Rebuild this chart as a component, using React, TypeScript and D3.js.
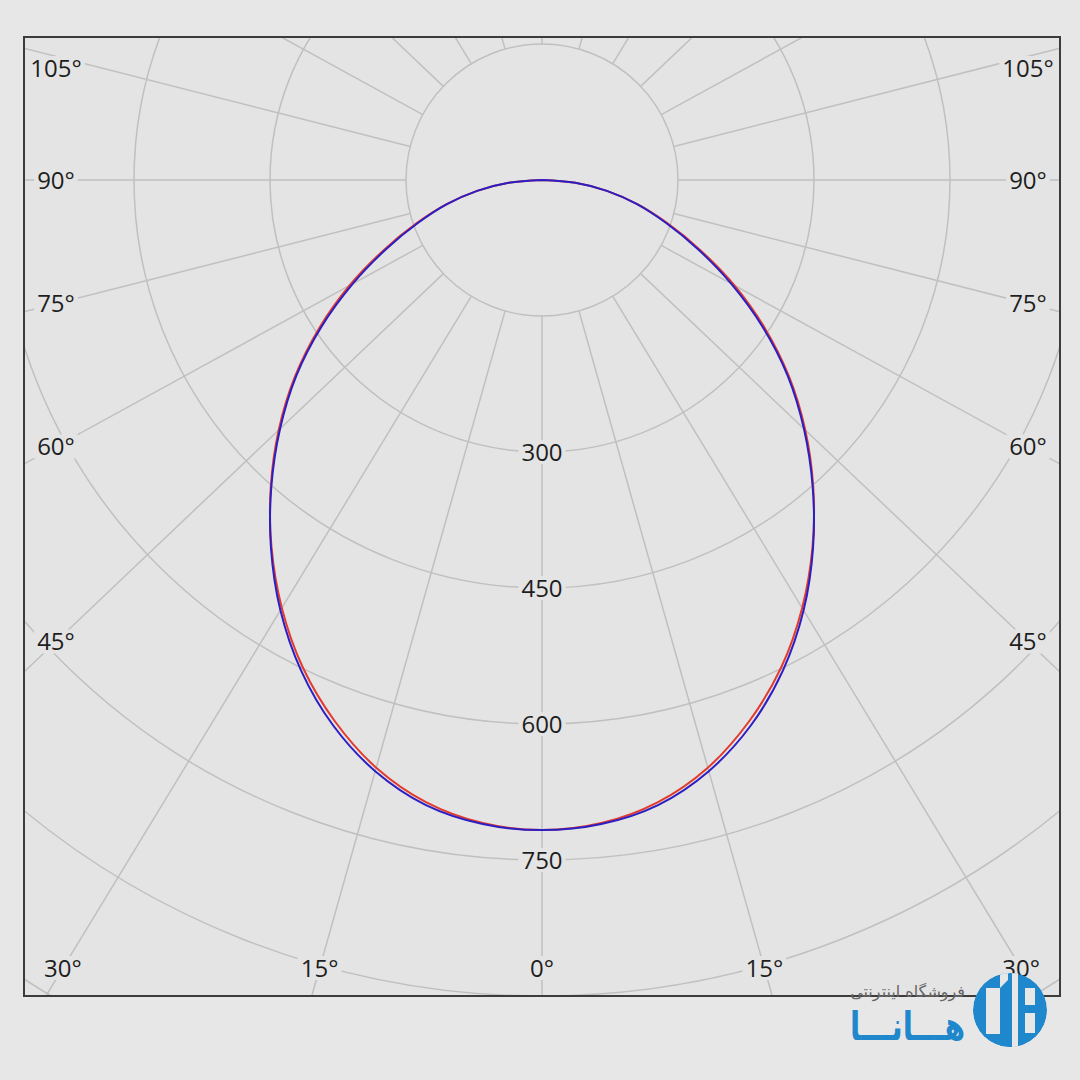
import * as d3 from 'd3';
import { useEffect, useRef } from 'react';

// polar angles from nadir (deg) and luminous intensity (cd)
const angles = [0, 5, 10, 15, 20, 25, 30, 35, 40, 45, 50, 55, 60, 65, 70, 75, 80, 85, 90];
const planeC0C180 = [717, 712, 697, 671, 635, 593, 545, 494, 442, 390, 338, 285, 233, 183, 140, 104, 69, 35, 0];
const planeC90C270 = [717, 713, 700, 675, 640, 597, 548, 495, 441, 388, 336, 282, 229, 180, 138, 103, 69, 35, 0];

const ringValues = [150, 300, 450, 600, 750, 900, 1050, 1200];
const ringLabels = [300, 450, 600, 750];
const angleLabels = [0, 15, 30, 45, 60, 75, 90, 105];
const rayStep = 15;

const W = 1080;
const H = 1080;
const frame = { left: 24, top: 37, right: 1060, bottom: 996 };
const cx = 542;
const cy = 180;
const skewX = 1.053;
const plotBg = '#e4e4e4';
const pageBg = '#e7e7e7';
const brand = '#1f88cc';

const App = () => {
  const svgRef = useRef<SVGSVGElement | null>(null);

  useEffect(() => {
    if (!svgRef.current) return;
    const svg = d3.select(svgRef.current).html('');

    const rScale = d3.scaleLinear().domain([0, 150]).range([0, 136]);
    const rad = (deg: number) => (deg * Math.PI) / 180;
    const px = (deg: number, v: number) => cx - skewX * rScale(v) * Math.sin(rad(deg));
    const py = (deg: number, v: number) => cy + rScale(v) * Math.cos(rad(deg));

    svg.append('rect').attr('width', W).attr('height', H).attr('fill', pageBg);
    svg.append('rect')
      .attr('x', frame.left).attr('y', frame.top)
      .attr('width', frame.right - frame.left).attr('height', frame.bottom - frame.top)
      .attr('fill', plotBg);

    svg.append('clipPath').attr('id', 'plotClip')
      .append('rect')
      .attr('x', frame.left).attr('y', frame.top)
      .attr('width', frame.right - frame.left).attr('height', frame.bottom - frame.top);

    const grid = svg.append('g').attr('clip-path', 'url(#plotClip)');

    // rings
    grid.selectAll('circle.ring')
      .data(ringValues)
      .enter().append('circle')
      .attr('class', 'ring')
      .attr('cx', cx).attr('cy', cy)
      .attr('r', d => rScale(d))
      .attr('fill', 'none')
      .attr('stroke', '#c0c0c0')
      .attr('stroke-width', 1.5);

    // rays, starting at the first ring
    const rays = d3.range(0, 360, rayStep);
    grid.selectAll('line.ray')
      .data(rays)
      .enter().append('line')
      .attr('class', 'ray')
      .each(function (a) {
        const dx = -skewX * Math.sin(rad(a));
        const dy = Math.cos(rad(a));
        const n = Math.hypot(dx, dy);
        const r0 = rScale(ringValues[0]);
        d3.select(this)
          .attr('x1', cx + (dx / n) * r0).attr('y1', cy + (dy / n) * r0)
          .attr('x2', cx + (dx / n) * 1600).attr('y2', cy + (dy / n) * 1600);
      })
      .attr('stroke', '#c0c0c0')
      .attr('stroke-width', 1.5);

    const labelLayer = svg.append('g');
    const addLabel = (x: number, y: number, text: string) => {
      const g = labelLayer.append('g');
      const rect = g.append('rect').attr('fill', plotBg);
      const t = g.append('text')
        .attr('x', x).attr('y', y).attr('dy', '0.36em')
        .attr('text-anchor', 'middle')
        .attr('fill', '#1e1e1e')
        .style('font-family', '"Open Sans", "Liberation Sans", sans-serif')
        .style('font-size', '24px')
        .text(text);
      const bb = (t.node() as SVGTextElement).getBBox();
      rect.attr('x', bb.x - 3).attr('y', y - 12).attr('width', bb.width + 6).attr('height', 24);
    };

    // intensity labels along the nadir ray
    ringLabels.forEach(v => addLabel(cx, cy + rScale(v), String(v)));

    // angle labels at the frame edge
    const sides = [1, -1];
    angleLabels.forEach(a => {
      sides.forEach(sgn => {
        if (a === 0 && sgn < 0) return;
        const s = Math.sin(rad(a));
        const c = Math.cos(rad(a));
        let x: number;
        let y: number;
        if (a >= 45) {
          x = sgn > 0 ? frame.left + 32 : frame.right - 32;
          const t = (cx - x) / (sgn * skewX * s);
          y = Math.max(cy + c * t, frame.top + 31);
        } else {
          y = frame.bottom - 28;
          const t = (y - cy) / c;
          x = cx - sgn * skewX * s * t;
        }
        addLabel(x, y, `${a}°`);
      });
    });

    // distribution curves, left half then mirrored right half
    const closed = (vals: number[]) => {
      const pts: [number, number][] = [];
      for (let i = angles.length - 1; i >= 0; i--) pts.push([angles[i], vals[i]]);
      for (let i = 1; i < angles.length; i++) pts.push([-angles[i], vals[i]]);
      return pts;
    };
    const line = d3.line<[number, number]>()
      .x(d => px(d[0], d[1]))
      .y(d => py(d[0], d[1]))
      .curve(d3.curveCatmullRom.alpha(0.5));

    svg.append('path')
      .datum(closed(planeC0C180))
      .attr('fill', 'none')
      .attr('stroke', '#e23b2e')
      .attr('stroke-width', 2)
      .attr('d', line);

    svg.append('path')
      .datum(closed(planeC90C270))
      .attr('fill', 'none')
      .attr('stroke', '#2b1fc4')
      .attr('stroke-width', 2)
      .attr('d', line);

    // frame
    svg.append('rect')
      .attr('x', frame.left).attr('y', frame.top)
      .attr('width', frame.right - frame.left).attr('height', frame.bottom - frame.top)
      .attr('fill', 'none')
      .attr('stroke', '#3c3c3c')
      .attr('stroke-width', 2);

    // watermark
    const wm = svg.append('g');
    wm.append('text')
      .attr('x', 965).attr('y', 997)
      .attr('text-anchor', 'end')
      .attr('fill', '#666')
      .style('font-family', '"DejaVu Sans", sans-serif')
      .style('font-size', '16px')
      .text('فروشگاه اینترنتی');
    wm.append('text')
      .attr('x', 965).attr('y', 1040)
      .attr('text-anchor', 'end')
      .attr('fill', brand)
      .attr('textLength', 115)
      .attr('lengthAdjust', 'spacingAndGlyphs')
      .style('font-family', '"DejaVu Sans", sans-serif')
      .style('font-size', '40px')
      .style('font-weight', 'bold')
      .text('هـــانـــا');

    svg.append('clipPath').attr('id', 'logoClip')
      .append('circle').attr('cx', 1010).attr('cy', 1010).attr('r', 37);
    const logo = wm.append('g').attr('clip-path', 'url(#logoClip)')
      .append('g').attr('transform', 'translate(1010,1010)');
    logo.append('circle').attr('r', 37).attr('fill', brand);
    // left "C" opening
    logo.append('rect').attr('x', -24).attr('y', -22).attr('width', 14).attr('height', 46).attr('fill', pageBg);
    // middle bar with slanted top
    logo.append('path').attr('d', 'M-10,-40 L-10,40 L2,40 L2,-26 Z').attr('fill', brand);
    logo.append('path').attr('d', 'M-10,-40 L-10,-22 L-2,-30 L-2,-40 Z').attr('fill', pageBg);
    // gaps
    logo.append('rect').attr('x', 2).attr('y', -40).attr('width', 6).attr('height', 80).attr('fill', pageBg);
    // right windows
    logo.append('rect').attr('x', 15).attr('y', -22).attr('width', 10).attr('height', 17).attr('fill', pageBg);
    logo.append('rect').attr('x', 15).attr('y', 3).attr('width', 10).attr('height', 20).attr('fill', pageBg);
  }, []);

  return (
    <svg
      ref={svgRef}
      width={W}
      height={H}
      style={{ position: 'absolute', left: 0, top: 0, display: 'block' }}
    />
  );
};

export default App;
